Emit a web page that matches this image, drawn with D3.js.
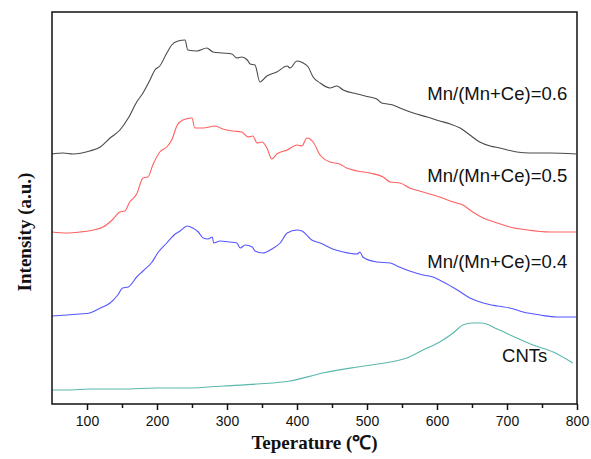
<!DOCTYPE html>
<html>
<head>
<meta charset="utf-8">
<script src="https://cdn.jsdelivr.net/npm/d3@7/dist/d3.min.js"></script>
<style>
  body { margin: 0; background: #fff; }
  svg { display: block; }
</style>
</head>
<body>
<svg width="591" height="459"></svg>
<script>
// temperature (C) and intensity (a.u.)
const mn06 = [[50,249],[66,250],[80,249],[104,252],[119,256],[133,265],[147,273],[159,285],[171,301],[180,310],[190,323],[197,333],[204,337],[214,350],[221,358],[230,362],[240,363],[244,353],[257,352],[271,355],[280,351],[294,350],[307,349],[314,345],[321,346],[329,343],[333,339],[340,338],[347,321],[357,327],[371,331],[386,337],[390,335],[400,342],[409,340],[416,336],[423,326],[433,320],[447,315],[457,317],[466,313],[486,309],[504,306],[514,304],[521,300],[537,298],[547,295],[566,290],[586,286],[604,282],[619,279],[633,275],[647,268],[661,261],[676,257],[690,255],[714,251],[733,250],[761,250],[799,249]];

const mn05 = [[50,171],[71,170],[90,171],[109,173],[123,176],[136,183],[147,191],[154,192],[161,201],[171,209],[180,225],[187,226],[194,238],[204,251],[214,256],[221,263],[229,278],[237,283],[250,285],[254,275],[266,275],[283,277],[294,274],[309,272],[321,271],[330,266],[337,267],[343,260],[350,261],[357,255],[364,244],[371,249],[386,253],[400,258],[407,257],[414,265],[423,261],[433,248],[447,241],[461,239],[471,235],[486,232],[504,230],[523,226],[533,221],[547,220],[561,215],[580,211],[604,206],[623,201],[637,198],[651,191],[666,185],[686,180],[704,176],[729,173],[761,171],[799,171]];

const mn04 = [[50,87],[71,88],[90,89],[104,90],[119,95],[133,100],[144,108],[151,115],[159,116],[171,126],[180,132],[193,141],[201,150],[214,160],[226,169],[233,172],[243,177],[251,175],[259,171],[266,165],[273,164],[279,166],[281,160],[290,162],[304,161],[314,160],[319,155],[326,158],[336,156],[340,152],[351,150],[364,154],[376,160],[386,170],[400,173],[407,172],[421,163],[433,160],[451,154],[466,151],[486,149],[490,151],[494,146],[514,141],[533,140],[543,137],[561,132],[580,128],[594,126],[609,121],[629,113],[647,105],[666,100],[686,97],[704,95],[723,91],[747,88],[771,86],[799,86]];

const cnts = [[50,13],[71,13],[104,14],[151,14],[200,15],[247,15],[294,17],[343,19],[390,22],[437,30],[486,36],[533,41],[557,45],[580,53],[604,61],[623,70],[637,78],[650,80],[664,80],[686,74],[714,65],[737,58],[766,51],[794,40]];

const seriesNames = ["Mn/(Mn+Ce)=0.6", "Mn/(Mn+Ce)=0.5", "Mn/(Mn+Ce)=0.4", "CNTs"];
const seriesData = [mn06, mn05, mn04, cnts];
const colors = ["#4a4a4a", "#ff6060", "#5555ff", "#5ab7ad"];
// label anchor positions in data units [temperature, intensity]
const labelPos = [[786, 303], [786, 221], [786, 135], [693, 41]];
const labelAnchor = ["end", "end", "end", "start"];
const majorTicks = [100, 200, 300, 400, 500, 600, 700, 800];
const minorTicks = [150, 250, 350, 450, 550, 650, 750];

const margin = { top: 12, right: 14, bottom: 55, left: 52 };
const svg = d3.select("svg");
const W = 591, H = 459;
const w = W - margin.left - margin.right,
      h = H - margin.top - margin.bottom;

const x = d3.scaleLinear().domain([50, 800]).range([0, w]);
const y = d3.scaleLinear().domain([0, 391]).range([h - 1, 0]);

const g = svg.append("g").attr("transform", `translate(${margin.left},${margin.top})`);

const line = d3.line().curve(d3.curveMonotoneX).x(d => x(d[0])).y(d => y(d[1]));

seriesData.forEach((s, i) => {
  g.append("path")
    .datum(s)
    .attr("fill", "none")
    .attr("stroke", colors[i])
    .attr("stroke-width", 1.1)
    .attr("stroke-linejoin", "round")
    .attr("d", line);
});

// labels
seriesNames.forEach((n, i) => {
  g.append("text")
    .attr("x", x(labelPos[i][0]))
    .attr("y", y(labelPos[i][1]))
    .attr("text-anchor", labelAnchor[i])
    .attr("font-family", "Liberation Sans, Arial, sans-serif")
    .attr("font-size", 18.5)
    .attr("fill", "#111")
    .text(n);
});

// frame
g.append("rect")
  .attr("x", 0).attr("y", 0)
  .attr("width", w).attr("height", h)
  .attr("fill", "none")
  .attr("stroke", "#111")
  .attr("stroke-width", 1.5);

// x axis
const xAxis = g.append("g")
  .attr("transform", `translate(0,${h})`)
  .call(d3.axisBottom(x).tickValues(majorTicks).tickSize(6).tickPadding(6).tickFormat(d3.format("d")));
xAxis.select(".domain").remove();
xAxis.selectAll("line").attr("stroke", "#111").attr("stroke-width", 1.5);
xAxis.selectAll("text")
  .attr("font-family", "Liberation Sans, Arial, sans-serif")
  .attr("font-size", 14)
  .attr("fill", "#111");

const xMinor = g.append("g")
  .attr("transform", `translate(0,${h})`)
  .call(d3.axisBottom(x).tickValues(minorTicks).tickSize(4).tickFormat(""));
xMinor.select(".domain").remove();
xMinor.selectAll("line").attr("stroke", "#111").attr("stroke-width", 1.5);

// axis titles
svg.append("text")
  .attr("x", margin.left + w / 2)
  .attr("y", 449)
  .attr("text-anchor", "middle")
  .attr("font-family", "Liberation Serif, Times New Roman, serif")
  .attr("font-weight", "bold")
  .attr("font-size", 19)
  .attr("fill", "#111")
  .text("Teperature (℃)");

svg.append("text")
  .attr("transform", "translate(31,232) rotate(-90)")
  .attr("text-anchor", "middle")
  .attr("font-family", "Liberation Serif, Times New Roman, serif")
  .attr("font-weight", "bold")
  .attr("font-size", 19)
  .attr("fill", "#111")
  .text("Intensity (a.u.)");
</script>
</body>
</html>
